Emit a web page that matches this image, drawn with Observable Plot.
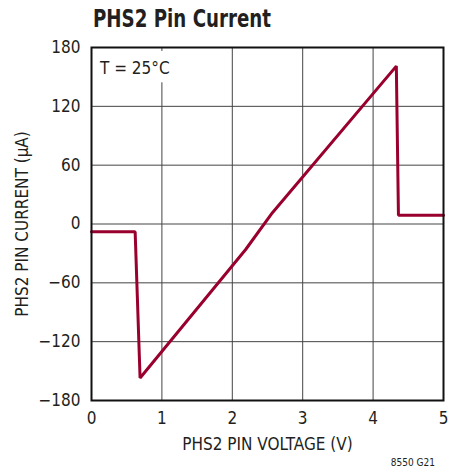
<!DOCTYPE html>
<html>
<head>
<meta charset="utf-8">
<script src="https://cdn.jsdelivr.net/npm/d3@7"></script>
<script src="https://cdn.jsdelivr.net/npm/@observablehq/plot@0.6"></script>
<style>
  html, body { margin: 0; padding: 0; background: #fff; }
  #wrap { position: relative; width: 461px; height: 472px; }
  #title { position: absolute; left: 93px; top: 4px; font-family: "DejaVu Sans", sans-serif; font-stretch: condensed; font-weight: bold; font-size: 25px; color: #231f20; white-space: nowrap; transform: scaleX(0.81); transform-origin: left top; }
  #caption { position: absolute; right: 26px; top: 457px; font-family: "DejaVu Sans", sans-serif; font-stretch: condensed; font-size: 10px; color: #231f20; }
  #chart { position: absolute; left: 0; top: 0; }
  svg text { font-stretch: condensed; }
</style>
</head>
<body>
<div id="wrap">
  <div id="chart"></div>
  <div id="title">PHS2 Pin Current</div>
  <div id="caption">8550 G21</div>
</div>
<script>
const voltage = [0, 0.62, 0.69, 2.19, 2.57, 4.33, 4.36, 5];
const current = [-8, -8, -157, -26, 11.5, 161, 9, 9];
const xTicks = [0, 1, 2, 3, 4, 5];
const yTicks = [-180, -120, -60, 0, 60, 120, 180];
const annotation = ["T = 25°C"];

const data = voltage.map((v, i) => ({v, c: current[i]}));
const fmt = d => d < 0 ? "\u2212" + (-d) : String(d);
const font = '"DejaVu Sans", sans-serif';

const plot = Plot.plot({
  width: 461,
  height: 472,
  marginTop: 47,
  marginBottom: 72,
  marginLeft: 91,
  marginRight: 18,
  style: {fontFamily: font, fontSize: "15.5px", color: "#231f20", background: "white"},
  x: {domain: [0, 5], ticks: xTicks, label: null},
  y: {domain: [-180, 180], ticks: yTicks, label: null},
  marks: [
    Plot.gridX(xTicks, {stroke: "#444", strokeOpacity: 1, strokeWidth: 1}),
    Plot.gridY(yTicks, {stroke: "#444", strokeOpacity: 1, strokeWidth: 1}),
    Plot.rect([0], {x1: 0.03, x2: 1.18, y1: 176, y2: 144, fill: "white"}),
    Plot.text(annotation, {x: 0.12, y: 159, text: d => d, textAnchor: "start", fontSize: 17, fill: "#231f20"}),
    Plot.line(data, {x: "v", y: "c", stroke: "#99002e", strokeWidth: 3, strokeLinejoin: "miter"}),
    Plot.frame({stroke: "#111", strokeWidth: 2}),
    Plot.axisX(xTicks, {tickSize: 0, tickPadding: 11, fontSize: 17, tickFormat: fmt, label: null}),
    Plot.axisY(yTicks, {tickSize: 0, tickPadding: 11, fontSize: 17, tickFormat: fmt, label: null}),
    Plot.text(["PHS2 PIN VOLTAGE (V)"], {x: 2.5, frameAnchor: "bottom", dy: 44, lineAnchor: "middle", text: d => d, fontSize: 17, fill: "#231f20"}),
    Plot.text(["PHS2 PIN CURRENT (\u00b5A)"], {y: 0, frameAnchor: "left", textAnchor: "middle", dx: -69, rotate: -90, text: d => d, fontSize: 17, fill: "#231f20"})
  ]
});
document.getElementById("chart").appendChild(plot);
</script>
</body>
</html>
